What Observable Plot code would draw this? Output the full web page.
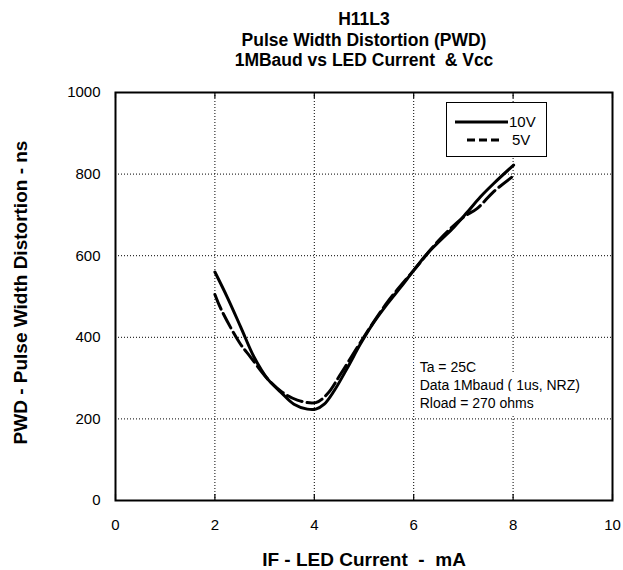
<!DOCTYPE html>
<html>
<head>
<meta charset="utf-8">
<script src="https://cdn.jsdelivr.net/npm/d3@7"></script>
<script src="https://cdn.jsdelivr.net/npm/@observablehq/plot@0.6"></script>
<style>
  html, body { margin: 0; padding: 0; background: #fff; }
  #wrap { position: relative; width: 623px; height: 570px; font-family: "Liberation Sans", Arial, sans-serif; }
  #legend { position: absolute; left: 446px; top: 102px; width: 101px; height: 55px; border: 1px solid #000; background: #fff; box-sizing: border-box; }
  #legend .row { position: absolute; left: 0; height: 18px; font-size: 15px; line-height: 18px; }
  #legend svg { position: absolute; top: 0; }
  #legend span { position: absolute; }
</style>
</head>
<body>
<div id="wrap">
  <div id="chart"></div>
  <div id="legend"></div>
</div>
<script>
// ---- data ----
const titleLines = ["H11L3", "Pulse Width Distortion (PWD)", "1MBaud vs LED Current  & Vcc"];
const xLabel = "IF - LED Current  -  mA";
const yLabel = "PWD - Pulse Width Distortion - ns";
const xTicks = [0, 2, 4, 6, 8, 10];
const yTicks = [0, 200, 400, 600, 800, 1000];
const seriesNames = ["10V", "5V"];

// 10V (solid)
const ifmA_10V = [2.0, 2.25, 2.52, 2.79, 3.06, 3.33, 3.59, 3.86, 4.03, 4.2, 4.4, 4.67, 4.93, 5.2, 5.47, 5.74, 6.0, 6.27, 6.54, 6.81, 7.08, 7.34, 7.61, 8.01];
const pwd_10V  = [560, 498, 425, 351, 298, 265, 236, 224, 224, 236, 269, 326, 384, 437, 482, 523, 564, 605, 638, 670, 707, 744, 777, 822];
// 5V (dashed)
const ifmA_5V = [2.0, 2.12, 2.49, 2.72, 3.06, 3.36, 3.66, 4.03, 4.26, 4.53, 4.93, 5.47, 6.0, 6.54, 7.01, 7.28, 7.61, 7.98];
const pwd_5V  = [505, 470, 388, 351, 298, 265, 246, 240, 261, 310, 388, 486, 564, 642, 695, 716, 757, 793];

const noteLines = ["Ta = 25C", "Data 1Mbaud ( 1us, NRZ)", "Rload = 270 ohms"];
const noteAt = {x: 6.12, y: 285};

// ---- build table ----
const s10 = ifmA_10V.map((x, i) => ({x, y: pwd_10V[i], s: seriesNames[0]}));
const s5 = ifmA_5V.map((x, i) => ({x, y: pwd_5V[i], s: seriesNames[1]}));

const font = "Liberation Sans, Arial, sans-serif";

const titleMarks = titleLines.map((t, i) => Plot.text([t], {
  frameAnchor: "top", lineAnchor: "middle", dy: -73 + i * 20.5, text: d => d,
  fontWeight: "bold", fontSize: 17.5, fill: "#000"
}));

const chart = Plot.plot({
  width: 623,
  height: 570,
  marginLeft: 115,
  marginRight: 11,
  marginTop: 92,
  marginBottom: 70,
  style: {fontFamily: font, fontSize: "15px", color: "#000", background: "#fff", overflow: "visible"},
  x: {domain: [0, 10], ticks: xTicks},
  y: {domain: [0, 1000], ticks: yTicks},
  marks: [
    Plot.gridX(xTicks.slice(1, -1), {stroke: "#000", strokeOpacity: 1, strokeWidth: 1, strokeDasharray: "1,2"}),
    Plot.gridY(yTicks.slice(1, -1), {stroke: "#000", strokeOpacity: 1, strokeWidth: 1, strokeDasharray: "1,2"}),
    Plot.text([noteLines.join("\n")], {
      x: () => noteAt.x, y: () => noteAt.y, text: d => d,
      textAnchor: "start", lineAnchor: "middle", lineHeight: 1.28,
      fontSize: 14, fill: "#000", stroke: "#fff", strokeWidth: 12, paintOrder: "stroke"
    }),
    Plot.line(s10, {x: "x", y: "y", stroke: "#000", strokeWidth: 3, curve: "catmull-rom"}),
    Plot.line(s5, {x: "x", y: "y", stroke: "#000", strokeWidth: 3, strokeDasharray: "16,5", curve: "catmull-rom"}),
    Plot.axisX(xTicks, {anchor: "bottom", tickSize: 0, tickPadding: 19, fontSize: 15, label: null, tickFormat: d3.format("d")}),
    Plot.axisY(yTicks, {anchor: "left", tickSize: 0, tickPadding: 15, fontSize: 15, label: null, tickFormat: d3.format("d")}),
    Plot.tickX(xTicks, {x: d => d, stroke: "#000", strokeWidth: 1.2, insetTop: 402}),
    Plot.tickX(xTicks, {x: d => d, stroke: "#000", strokeWidth: 1.2, insetBottom: 402}),
    Plot.frame({stroke: "#000", strokeWidth: 2}),
    ...titleMarks,
    Plot.text([xLabel], {frameAnchor: "bottom", lineAnchor: "middle", dy: 59, text: d => d, fontWeight: "bold", fontSize: 19, fill: "#000"}),
    Plot.text([yLabel], {frameAnchor: "left", dx: -95, dy: -4, rotate: -90, textAnchor: "middle", lineAnchor: "middle", text: d => d, fontWeight: "bold", fontSize: 19, fill: "#000"})
  ]
});
document.getElementById("chart").appendChild(chart);

// ---- legend ----
const legend = document.getElementById("legend");
const rows = [
  {name: seriesNames[0], top: 10, x1: 8, x2: 61, dash: null, tx: 62},
  {name: seriesNames[1], top: 28, x1: 20, x2: 56, dash: "8,4", tx: 65}
];
for (const r of rows) {
  const row = document.createElement("div");
  row.className = "row";
  row.style.top = r.top + "px";
  row.style.width = "100px";
  const svg = d3.create("svg").attr("width", 70).attr("height", 18);
  svg.append("line").attr("x1", r.x1).attr("x2", r.x2).attr("y1", 9).attr("y2", 9)
    .attr("stroke", "#000").attr("stroke-width", 3).attr("stroke-dasharray", r.dash);
  row.appendChild(svg.node());
  const t = document.createElement("span");
  t.textContent = r.name;
  t.style.left = r.tx + "px";
  row.appendChild(t);
  legend.appendChild(row);
}
</script>
</body>
</html>
